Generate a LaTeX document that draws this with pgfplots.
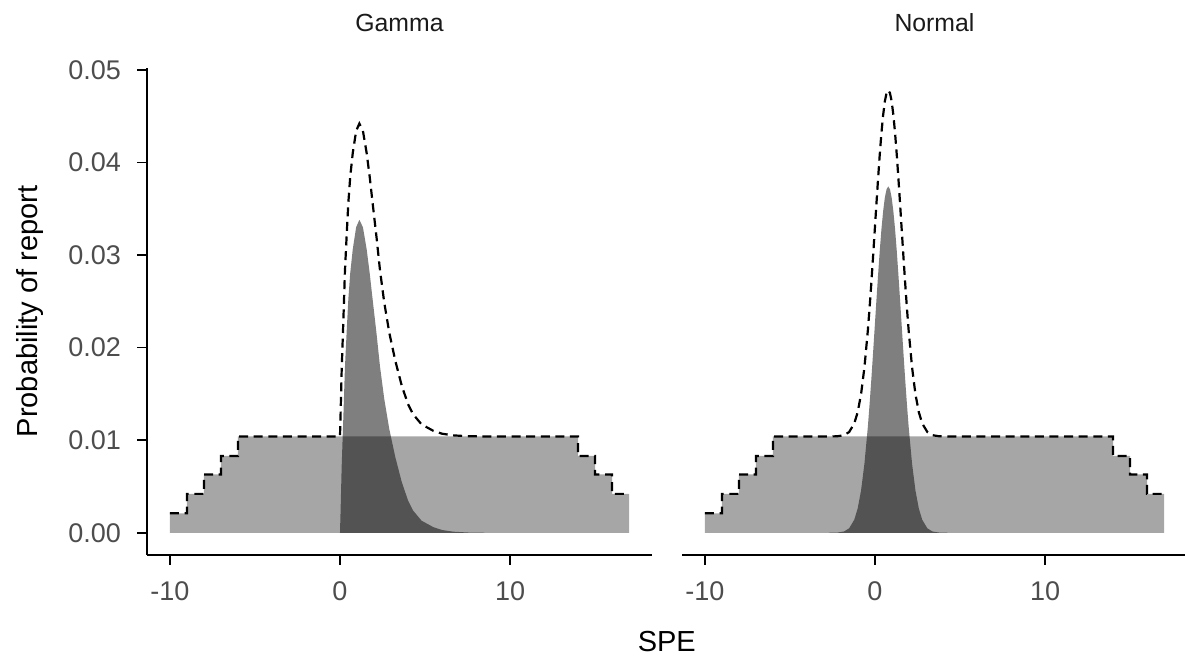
\documentclass[border=0pt]{standalone}
\usepackage{pgfplots}
\pgfplotsset{compat=1.18}
\usepackage{fontspec}
\setmainfont{Liberation Sans}
\definecolor{ticktxt}{HTML}{4D4D4D}
\definecolor{striptxt}{HTML}{1A1A1A}
\begin{document}
\begin{tikzpicture}
\useasboundingbox (0,0) rectangle (592.5pt,328.5pt);
\pgfplotsset{
 panel/.style={
  scale only axis, width=252.5pt, height=243.5pt,
  xmin=-11.35, xmax=18.35, ymin=-0.0024, ymax=0.0502,
  axis x line=bottom,
  scaled y ticks=false, scaled x ticks=false,
  xtick={-10,0,10}, xticklabels={-10,0,10},
  tick align=outside, major tick length=5pt,
  tick style={line width=0.9pt, black},
  xticklabel style={font=\fontsize{13.5}{16}\selectfont, text=ticktxt, yshift=-5pt},
  yticklabel style={font=\fontsize{13.5}{16}\selectfont, text=ticktxt, xshift=-4.5pt},
  title style={at={(axis description cs:0.5,1)}, anchor=base, yshift=12pt,
               font=\fontsize{12.4}{15}\selectfont, text=striptxt},
 },
 lines/.style={axis line style={-, line width=0.9pt, black},
   x axis line style={-}, y axis line style={-},
   every outer x axis line/.append style={-},
   every outer y axis line/.append style={-},
   every inner x axis line/.append style={-},
   every inner y axis line/.append style={-}},
 steps/.style={draw=none, fill=black, fill opacity=0.35, const plot},
 comp/.style={draw=none, fill=black, fill opacity=0.5},
 total/.style={black, line width=1.1pt, dash pattern=on 4.5pt off 2.8pt},
}
% ---------------- Gamma ----------------
\begin{axis}[panel, at={(73.5pt,51pt)}, anchor=south west,
  axis y line=left, lines, ytick align=outside, xtick align=outside,
  ytick={0,0.01,0.02,0.03,0.04,0.05},
  yticklabels={0.00,0.01,0.02,0.03,0.04,0.05},
  ylabel={Probability of report},
  ylabel style={at={(axis description cs:0,0.5)}, anchor=center,
                yshift=58.5pt, font=\fontsize{14.5}{17}\selectfont},
  xlabel={SPE},
  xlabel style={at={(axis description cs:0,0)}, anchor=center,
                xshift=259.9pt, yshift=-43.4pt, font=\fontsize{14.5}{17}\selectfont},
  title={Gamma}]
\addplot[steps] coordinates {(-10,0.0021) (-9,0.0042) (-8,0.0063) (-7,0.0083) (-6,0.0104) (14,0.0083) (15,0.0063) (16,0.0042) (17,0.0042)} \closedcycle;
\addplot[comp] coordinates {
(0,0) (0.03,0.002) (0.1,0.0072) (0.2,0.0126) (0.29,0.0178) (0.4,0.0220) (0.49,0.0252) (0.6,0.0280) (0.75,0.0306) (0.95,0.0330) (1.14,0.0338) (1.35,0.0330) (1.57,0.0306) (1.75,0.0280) (1.92,0.0252) (2.15,0.0215) (2.35,0.0180) (2.6,0.0145) (2.9,0.0112) (3.25,0.0082) (3.63,0.0055) (4.0,0.0035) (4.3,0.0024) (4.8,0.0013) (5.5,0.0006) (6.0,0.0003) (6.65,0.00012) (7.5,0.00003) (8.5,0)} \closedcycle;
\addplot[total] coordinates {
(-10,0.0021) (-9,0.0021) (-9,0.0042) (-8,0.0042) (-8,0.0063) (-7,0.0063) (-7,0.0083) (-6,0.0083) (-6,0.0104)
(0,0.0104) (0.03,0.0124) (0.1,0.0176) (0.2,0.0230) (0.29,0.0282) (0.4,0.0324) (0.49,0.0356) (0.6,0.0384) (0.75,0.0410) (0.95,0.0434) (1.14,0.0442) (1.35,0.0434) (1.57,0.0410) (1.75,0.0384) (1.92,0.0356) (2.15,0.0319) (2.35,0.0284) (2.6,0.0249) (2.9,0.0216) (3.25,0.0186) (3.63,0.0159) (4.0,0.0139) (4.3,0.0128) (4.8,0.0117) (5.5,0.0110) (6.0,0.0107) (6.65,0.01052) (7.5,0.01043) (8.5,0.0104)
(14,0.0104) (14,0.0083) (15,0.0083) (15,0.0063) (16,0.0063) (16,0.0042) (17,0.0042)};
\end{axis}
% ---------------- Normal ----------------
\begin{axis}[panel, at={(341pt,51pt)}, anchor=south west,
  axis y line=none, lines, ytick=\empty, xtick align=outside,
  title={Normal}]
\addplot[steps] coordinates {(-10,0.0021) (-9,0.0042) (-8,0.0063) (-7,0.0083) (-6,0.0104) (14,0.0083) (15,0.0063) (16,0.0042) (17,0.0042)} \closedcycle;
\addplot[comp] coordinates {
(-2.72,0) (-2.22,0.00002) (-1.82,0.00014) (-1.52,0.00048) (-1.22,0.0014) (-1.02,0.00261) (-0.82,0.00456) (-0.62,0.00747) (-0.42,0.01145) (-0.32,0.01383) (-0.22,0.01644) (-0.12,0.01922) (-0.02,0.0221) (0.08,0.0250) (0.18,0.0278) (0.28,0.03045) (0.38,0.0328) (0.48,0.03473) (0.58,0.0362) (0.68,0.0371) (0.78,0.0374) (0.88,0.0371) (0.98,0.0362) (1.08,0.03473) (1.18,0.0328) (1.28,0.03045) (1.38,0.0278) (1.48,0.0250) (1.58,0.0221) (1.68,0.01922) (1.78,0.01644) (1.88,0.01383) (1.98,0.01145) (2.18,0.00747) (2.38,0.00456) (2.58,0.00261) (2.78,0.0014) (3.08,0.00048) (3.38,0.00014) (3.78,0.00002) (4.28,0)} \closedcycle;
\addplot[total] coordinates {
(-10,0.0021) (-9,0.0021) (-9,0.0042) (-8,0.0042) (-8,0.0063) (-7,0.0063) (-7,0.0083) (-6,0.0083) (-6,0.0104)
(-2.72,0.0104) (-2.22,0.01042) (-1.82,0.01054) (-1.52,0.01088) (-1.22,0.0118) (-1.02,0.01301) (-0.82,0.01496) (-0.62,0.01787) (-0.42,0.02185) (-0.32,0.02423) (-0.22,0.02684) (-0.12,0.02962) (-0.02,0.0325) (0.08,0.0354) (0.18,0.0382) (0.28,0.04085) (0.38,0.0432) (0.48,0.04513) (0.58,0.0466) (0.68,0.0475) (0.78,0.0478) (0.88,0.0475) (0.98,0.0466) (1.08,0.04513) (1.18,0.0432) (1.28,0.04085) (1.38,0.0382) (1.48,0.0354) (1.58,0.0325) (1.68,0.02962) (1.78,0.02684) (1.88,0.02423) (1.98,0.02185) (2.18,0.01787) (2.38,0.01496) (2.58,0.01301) (2.78,0.0118) (3.08,0.01088) (3.38,0.01054) (3.78,0.01042) (4.28,0.0104)
(14,0.0104) (14,0.0083) (15,0.0083) (15,0.0063) (16,0.0063) (16,0.0042) (17,0.0042)};
\end{axis}
\end{tikzpicture}
\end{document}
